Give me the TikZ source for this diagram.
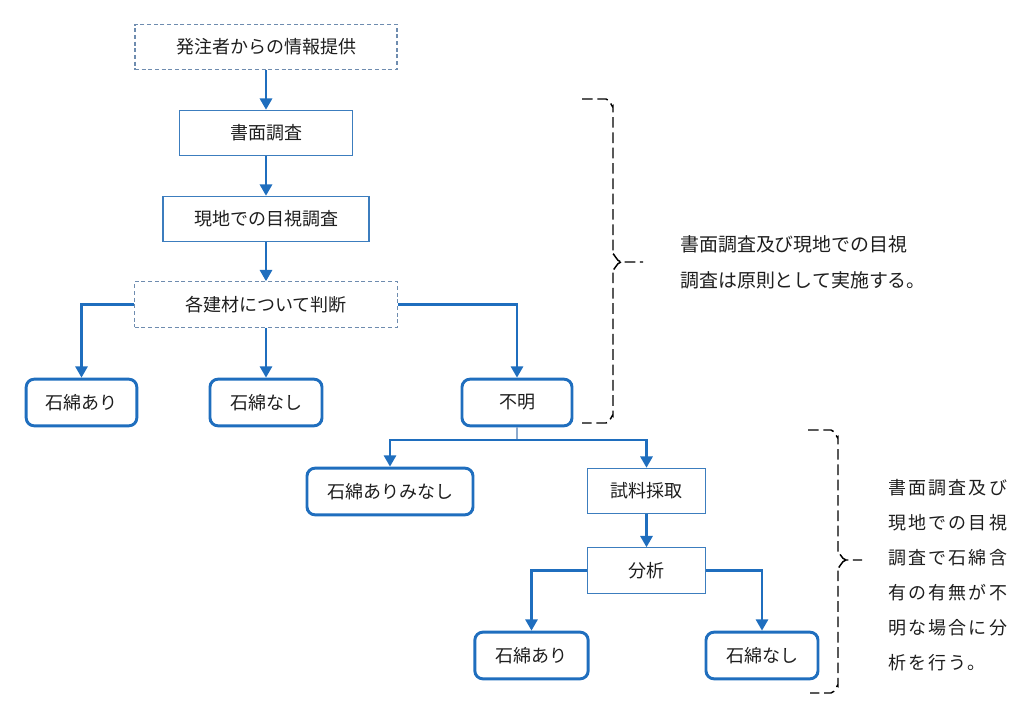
\documentclass[tikz,border=0pt]{standalone}
\usepackage{fontspec}
\setmainfont{Noto Sans CJK JP}
\usetikzlibrary{arrows.meta}
\definecolor{flowblue}{RGB}{31,110,190}
\definecolor{boxblue}{RGB}{60,125,190}
\definecolor{dashblue}{RGB}{110,140,175}
\definecolor{stemblue}{RGB}{140,170,205}
\definecolor{inkgrey}{RGB}{30,30,30}
\tikzset{
  plainbox/.style={draw=boxblue, line width=0.8pt, minimum height=34pt, inner sep=0pt, text=inkgrey, font=\fontsize{13.5}{15}\selectfont},
  dashbox/.style={plainbox, draw=dashblue, dash pattern=on 3pt off 2pt},
  roundbox/.style={plainbox, draw=flowblue, line width=2.2pt, rounded corners=6pt, minimum height=35pt},
  flow/.style={draw=flowblue, line width=2.2pt, -{Triangle[width=9pt,length=8.5pt]}},
  bracket/.style={draw=black, line width=1.1pt, dash pattern=on 8pt off 3.5pt},
  note/.style={anchor=west, align=left, inner sep=0pt, text=inkgrey}
}
\begin{document}
\begin{tikzpicture}[x=0.75pt,y=0.75pt,yscale=-1,xscale=1]
    \useasboundingbox (0,0) rectangle (1024,709);
    \node [dashbox, minimum width=196.5pt] (info) at (266,47) {発注者からの情報提供};
    \node [plainbox, minimum width=129.75pt] (shomen) at (266,133) {書面調査};
    \node [plainbox, minimum width=154.5pt] (genchi) at (266,219) {現地での目視調査};
    \node [dashbox, minimum width=197pt] (handan) at (266,304.5) {各建材について判断};
    \node [roundbox, minimum width=83pt] (ari1) at (81.5,402.5) {石綿あり};
    \node [roundbox, minimum width=84pt] (nashi1) at (266,402.5) {石綿なし};
    \node [roundbox, minimum width=82.5pt] (fumei) at (517,402.5) {不明};
    \node [roundbox, minimum width=124.5pt] (minashi) at (390,491.5) {石綿ありみなし};
    \node [plainbox, minimum width=89pt] (shiryo) at (646.5,491) {試料採取};
    \node [plainbox, minimum width=89pt] (bunseki) at (646.5,570.5) {分析};
    \node [roundbox, minimum width=85pt] (ari2) at (531.5,655.5) {石綿あり};
    \node [roundbox, minimum width=84pt] (nashi2) at (762,655.5) {石綿なし};
    \coordinate (split) at (517,440);
    \draw [flow] (info) -- (shomen);
    \draw [flow] (shomen) -- (genchi);
    \draw [flow] (genchi) -- (handan);
    \draw [flow] (handan.west) -| (ari1);
    \draw [flow] (handan) -- (nashi1);
    \draw [flow] (handan.east) -| (fumei);
    \draw [draw=stemblue, line width=1.5pt] (fumei.south) -- (split);
    \draw [flow] (split) -| (minashi);
    \draw [flow] (split) -| (shiryo);
    \draw [flow] (shiryo) -- (bunseki);
    \draw [flow] (bunseki.west) -| (ari2);
    \draw [flow] (bunseki.east) -| (nashi2);
    \draw [bracket] (582,99) -- (606,99) to[out=0,in=90] (613,106) -- (613,255) to[out=-90,in=180] (621,262) -- (643,262);
    \draw [bracket] (621,262) to[out=180,in=90] (613,269) -- (613,416) to[out=-90,in=0] (606,423) -- (582,423);
    \draw [bracket] (808,430) -- (831,430) to[out=0,in=90] (838,437) -- (838,553) to[out=-90,in=180] (846,560) -- (862,560);
    \draw [bracket] (846,560) to[out=180,in=90] (838,567) -- (838,686) to[out=-90,in=0] (831,693) -- (810,693);
    \node [note, font=\fontsize{14.2}{27}\selectfont] (note1) at (680,262) {書面調査及び現地での目視\\調査は原則として実施する。};
    \node [note, font=\addfontfeature{LetterSpace=12}\fontsize{13.5}{26.25}\selectfont] (note2) at (888,575.5) {書面調査及び\\現地での目視\\調査で石綿含\\有の有無が不\\明な場合に分\\析を行う。};
\end{tikzpicture}
\end{document}
